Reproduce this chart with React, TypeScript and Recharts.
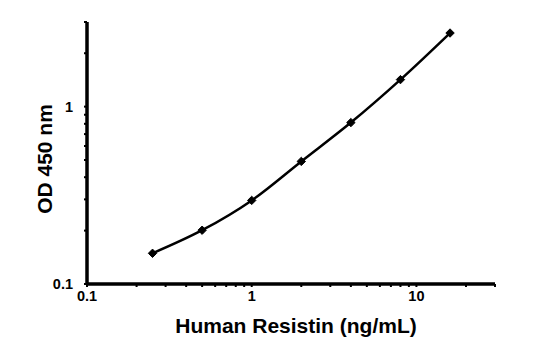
import React from "react";
import { LineChart, Line, XAxis, YAxis, Label } from "recharts";

const concentrations = [0.25, 0.5, 1, 2, 4, 8, 16];
const odValues = [0.149, 0.201, 0.296, 0.491, 0.813, 1.42, 2.6];
const xTicks = [0.1, 0.2, 0.3, 0.4, 0.5, 0.6, 0.7, 0.8, 0.9, 1, 2, 3, 4, 5, 6, 7, 8, 9, 10, 20, 30];
const yTicks = [0.1, 0.2, 0.3, 0.4, 0.5, 0.6, 0.7, 0.8, 0.9, 1, 2, 3];
const majorLabels = [0.1, 1, 10];
const xTitle = "Human Resistin (ng/mL)";
const yTitle = "OD 450 nm";

const data = concentrations.map((c, i) => ({ x: c, y: odValues[i] }));

const isMajor = (v: number) => majorLabels.some((m) => Math.abs(m - v) < 1e-9);

const font = "'Liberation Sans', Arial, sans-serif";

const Diamond = (props: any) => {
  const { cx, cy } = props;
  if (cx == null || cy == null) return null;
  const s = 4.2;
  return (
    <path
      d={`M${cx},${cy - s}L${cx + s},${cy}L${cx},${cy + s}L${cx - s},${cy}Z`}
      fill="#000"
      stroke="#000"
      strokeWidth={1}
    />
  );
};

const XTick = (props: any) => {
  const { x, y, payload } = props;
  if (!isMajor(payload.value)) return null;
  return (
    <text
      x={x}
      y={y + 7}
      textAnchor="middle"
      dominantBaseline="central"
      style={{ fill: "#000", fontSize: 14.5, fontWeight: "bold", fontFamily: font }}
    >
      {String(payload.value)}
    </text>
  );
};

const YTick = (props: any) => {
  const { x, y, payload } = props;
  if (!isMajor(payload.value)) return null;
  return (
    <text
      x={x}
      y={y}
      textAnchor="end"
      dominantBaseline="central"
      style={{ fill: "#000", fontSize: 14.5, fontWeight: "bold", fontFamily: font }}
    >
      {String(payload.value)}
    </text>
  );
};

const XTitle = () => (
  <text
    x={296}
    y={325}
    textAnchor="middle"
    dominantBaseline="central"
    style={{ fill: "#000", fontSize: 21, fontWeight: "bold", fontFamily: font }}
  >
    {xTitle}
  </text>
);

const YTitle = () => (
  <text
    x={44}
    y={159}
    transform="rotate(-90,44,159)"
    textAnchor="middle"
    dominantBaseline="central"
    style={{ fill: "#000", fontSize: 21, fontWeight: "bold", fontFamily: font }}
  >
    {yTitle}
  </text>
);

export default function App() {
  return (
    <div style={{ position: "absolute", left: 0, top: 0, background: "#fff" }}>
      <LineChart
        width={559}
        height={340}
        data={data}
        margin={{ top: 22, right: 64, bottom: 26, left: 27 }}
      >
        <XAxis
          dataKey="x"
          type="number"
          scale="log"
          domain={[0.1, 30]}
          ticks={xTicks}
          allowDataOverflow
          interval={0}
          height={30}
          axisLine={{ stroke: "#000", strokeWidth: 3.5 }}
          tickLine={{ stroke: "#000", strokeWidth: 2 }}
          tickSize={3}
          tickMargin={2}
          tick={<XTick />}
        >
          <Label content={<XTitle />} />
        </XAxis>
        <YAxis
          type="number"
          scale="log"
          domain={[0.1, 3]}
          ticks={yTicks}
          allowDataOverflow
          interval={0}
          width={60}
          axisLine={{ stroke: "#000", strokeWidth: 3.5 }}
          tickLine={{ stroke: "#000", strokeWidth: 2 }}
          tickSize={3}
          tickMargin={11}
          tick={<YTick />}
        >
          <Label content={<YTitle />} />
        </YAxis>
        <Line
          type="monotone"
          dataKey="y"
          stroke="#000"
          strokeWidth={2.5}
          dot={<Diamond />}
          activeDot={false}
          isAnimationActive={false}
        />
      </LineChart>
    </div>
  );
}
